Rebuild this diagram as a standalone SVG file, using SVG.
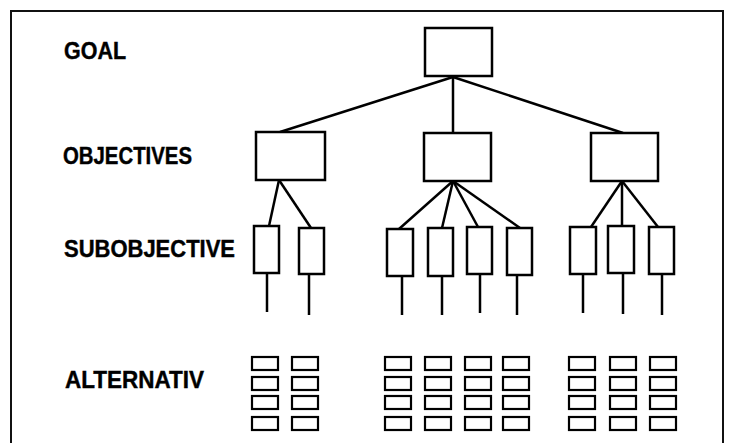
<svg xmlns="http://www.w3.org/2000/svg" width="729" height="443" viewBox="0 0 729 443">
<style>
  .lbl { font-family: "Liberation Sans", Arial, sans-serif; font-weight: bold; font-size: 23px; fill: #000; stroke: #000; stroke-width: 0.4; }
  .box { fill: #fff; stroke: #000; stroke-width: 2.5; }
  .alt { fill: #fff; stroke: #000; stroke-width: 2.2; }
  .ln { stroke: #000; stroke-width: 2.5; fill: none; }
  .frame { stroke: #111; stroke-width: 2; fill: none; }
</style>
<rect width="729" height="443" fill="#fff"/>
<path class="frame" d="M11,443 V11 H723 V443"/>
<g id="labels">
  <text class="lbl" x="64" y="59" textLength="62" lengthAdjust="spacingAndGlyphs">GOAL</text>
  <text class="lbl" x="63" y="164" textLength="129" lengthAdjust="spacingAndGlyphs">OBJECTIVES</text>
  <text class="lbl" x="64" y="256.5" textLength="171" lengthAdjust="spacingAndGlyphs">SUBOBJECTIVE</text>
  <text class="lbl" x="65" y="388" textLength="139" lengthAdjust="spacingAndGlyphs">ALTERNATIV</text>
</g>
<g id="connectors">
  <line class="ln" x1="453" y1="77" x2="280" y2="132"/>
  <line class="ln" x1="453" y1="77" x2="453" y2="133"/>
  <line class="ln" x1="453" y1="77" x2="623" y2="133"/>
  <line class="ln" x1="279" y1="180" x2="269" y2="226"/>
  <line class="ln" x1="279" y1="180" x2="311" y2="228"/>
  <line class="ln" x1="453" y1="181" x2="399" y2="229"/>
  <line class="ln" x1="453" y1="181" x2="442" y2="228"/>
  <line class="ln" x1="453" y1="181" x2="478" y2="227"/>
  <line class="ln" x1="453" y1="181" x2="520" y2="228"/>
  <line class="ln" x1="622" y1="181" x2="591" y2="227"/>
  <line class="ln" x1="622" y1="181" x2="622" y2="226"/>
  <line class="ln" x1="622" y1="181" x2="658" y2="227"/>
  <line class="ln" x1="267" y1="273" x2="267" y2="312"/>
  <line class="ln" x1="309" y1="274" x2="309" y2="315"/>
  <line class="ln" x1="402" y1="276" x2="402" y2="315"/>
  <line class="ln" x1="442" y1="276" x2="442" y2="315"/>
  <line class="ln" x1="480" y1="274" x2="480" y2="313"/>
  <line class="ln" x1="517" y1="275" x2="517" y2="315"/>
  <line class="ln" x1="583" y1="274" x2="583" y2="313"/>
  <line class="ln" x1="623" y1="273" x2="623" y2="314"/>
  <line class="ln" x1="662" y1="274" x2="662" y2="315"/>
</g>
<g id="goal"><rect class="box" x="425" y="28" width="67" height="48"/></g>
<g id="obj1"><rect class="box" x="256" y="132" width="69" height="48"/></g>
<g id="obj2"><rect class="box" x="424" y="133" width="67" height="48"/></g>
<g id="obj3"><rect class="box" x="591" y="133" width="67" height="48"/></g>
<g id="sub1"><rect class="box" x="254" y="226" width="25" height="47"/></g>
<g id="sub2"><rect class="box" x="299" y="228" width="25" height="46"/></g>
<g id="sub3"><rect class="box" x="387" y="229" width="26" height="47"/></g>
<g id="sub4"><rect class="box" x="428" y="228" width="25" height="48"/></g>
<g id="sub5"><rect class="box" x="467" y="227" width="25" height="47"/></g>
<g id="sub6"><rect class="box" x="507" y="228" width="25" height="47"/></g>
<g id="sub7"><rect class="box" x="570" y="227" width="26" height="47"/></g>
<g id="sub8"><rect class="box" x="608" y="226" width="26" height="47"/></g>
<g id="sub9"><rect class="box" x="649" y="227" width="25" height="47"/></g>
<g id="alternatives">
  <defs>
    <g id="altcol">
      <rect class="alt" x="0" y="357" width="26" height="13"/>
      <rect class="alt" x="0" y="377" width="26" height="13"/>
      <rect class="alt" x="0" y="396" width="26" height="13"/>
      <rect class="alt" x="0" y="417" width="26" height="13"/>
    </g>
  </defs>
  <use href="#altcol" x="252"/>
  <use href="#altcol" x="292"/>
  <use href="#altcol" x="385"/>
  <use href="#altcol" x="425"/>
  <use href="#altcol" x="465"/>
  <use href="#altcol" x="503"/>
  <use href="#altcol" x="569"/>
  <use href="#altcol" x="610"/>
  <use href="#altcol" x="650"/>
</g>
</svg>
